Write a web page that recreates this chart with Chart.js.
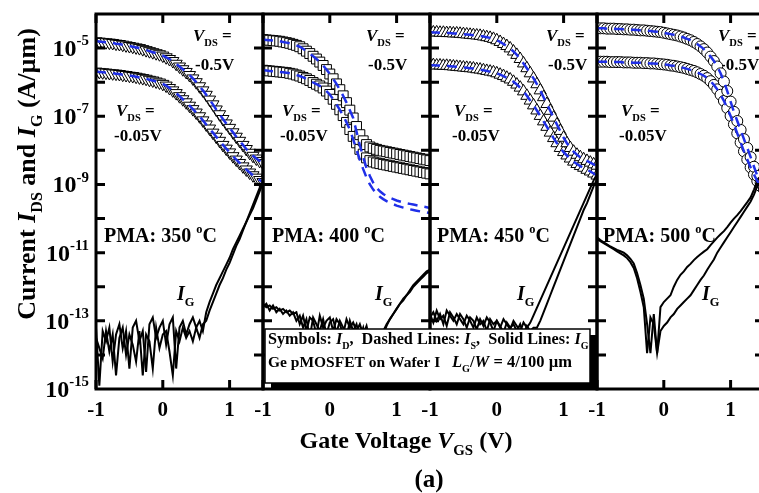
<!DOCTYPE html>
<html lang="en">
<head>
<meta charset="UTF-8">
<title>Ge pMOSFET transfer curves vs PMA temperature</title>
<script src="https://cdn.jsdelivr.net/npm/chart.js"></script>
<style>
  html, body { margin: 0; padding: 0; background: #fff; }
  #wrap { position: relative; width: 759px; height: 493px; overflow: hidden; background: #fff; }
  #wrap canvas { position: absolute; left: 0; top: 0; }
</style>
</head>
<body>
<div id="wrap">
  <canvas id="p350" width="780" height="493"></canvas>
  <canvas id="p400" width="780" height="493"></canvas>
  <canvas id="p450" width="780" height="493"></canvas>
  <canvas id="p500" width="780" height="493"></canvas>
</div>
<script>
// gate voltage sweep (V)
const vgs = [-1.00,-0.95,-0.90,-0.85,-0.80,-0.75,-0.70,-0.65,-0.60,-0.55,-0.50,-0.45,-0.40,-0.35,-0.30,-0.25,-0.20,-0.15,-0.10,-0.05,
  0.00,0.05,0.10,0.15,0.20,0.25,0.30,0.35,0.40,0.45,0.50,0.55,0.60,0.65,0.70,0.75,0.80,0.85,0.90,0.95,
  1.00,1.05,1.10,1.15,1.20,1.25,1.30,1.35,1.40,1.45,1.50];

// all currents below are log10(A/um)
// PMA 350 C
const id350Hi = [-4.80,-4.81,-4.82,-4.83,-4.84,-4.85,-4.87,-4.88,-4.90,-4.92,-4.94,-4.96,-4.98,-5.00,-5.03,-5.06,-5.09,-5.12,-5.15,-5.18,
  -5.22,-5.27,-5.32,-5.38,-5.46,-5.54,-5.62,-5.70,-5.79,-5.89,-6.00,-6.12,-6.24,-6.37,-6.51,-6.65,-6.80,-6.94,-7.08,-7.21,
  -7.34,-7.47,-7.60,-7.72,-7.84,-7.96,-8.07,-8.16,-8.24,-8.31,-8.37];
const id350Lo = [-5.69,-5.70,-5.71,-5.72,-5.73,-5.74,-5.75,-5.76,-5.78,-5.79,-5.81,-5.82,-5.84,-5.86,-5.88,-5.90,-5.93,-5.95,-5.98,-6.01,
  -6.05,-6.10,-6.17,-6.24,-6.32,-6.41,-6.50,-6.59,-6.69,-6.79,-6.89,-7.00,-7.12,-7.24,-7.36,-7.48,-7.60,-7.72,-7.84,-7.95,
  -8.06,-8.17,-8.27,-8.37,-8.47,-8.56,-8.65,-8.73,-8.80,-8.87,-8.93];
const ig350A = [-13.2,-14.9,-13.3,-13.6,-13.2,-14.2,-13.4,-13.1,-13.8,-13.3,-14.4,-13.2,-13.0,-13.6,-13.3,-14.5,-13.1,-12.9,-13.5,-13.2,
  -13.0,-13.7,-13.1,-12.9,-14.4,-13.2,-13.0,-13.4,-13.1,-12.9,-13.2,-13.0,-13.3,-12.75,-12.45,-12.2,-11.95,-11.75,-11.55,-11.35,
  -11.15,-10.9,-10.7,-10.5,-10.3,-10.1,-9.9,-9.7,-9.45,-9.2,-8.95];
const ig350B = [-13.5,-13.8,-14.1,-13.3,-13.9,-13.4,-14.6,-13.5,-13.2,-14.0,-13.4,-13.7,-14.2,-13.3,-14.6,-13.4,-13.6,-14.4,-13.2,-13.8,
  -13.4,-13.3,-13.9,-14.6,-13.3,-13.6,-13.2,-13.5,-13.3,-13.6,-13.2,-13.5,-13.1,-13.0,-12.7,-12.45,-12.2,-11.95,-11.75,-11.5,
  -11.3,-11.05,-10.8,-10.6,-10.35,-10.1,-9.85,-9.6,-9.35,-9.1,-8.85];

// PMA 400 C
const id400Hi = [-4.75,-4.76,-4.77,-4.78,-4.79,-4.80,-4.82,-4.84,-4.86,-4.89,-4.92,-4.96,-5.02,-5.09,-5.16,-5.24,-5.32,-5.41,-5.51,-5.63,
  -5.76,-5.90,-6.05,-6.22,-6.40,-6.60,-6.82,-7.05,-7.30,-7.54,-7.72,-7.83,-7.90,-7.94,-7.97,-8.00,-8.02,-8.04,-8.06,-8.08,
  -8.10,-8.12,-8.14,-8.16,-8.18,-8.20,-8.22,-8.24,-8.26,-8.28,-8.30];
const id400Lo = [-5.65,-5.66,-5.67,-5.68,-5.69,-5.70,-5.71,-5.72,-5.74,-5.76,-5.79,-5.82,-5.86,-5.90,-5.95,-6.01,-6.06,-6.11,-6.17,-6.26,
  -6.36,-6.50,-6.65,-6.81,-6.98,-7.18,-7.39,-7.59,-7.78,-7.97,-8.11,-8.22,-8.30,-8.34,-8.37,-8.39,-8.41,-8.43,-8.45,-8.47,
  -8.49,-8.51,-8.53,-8.55,-8.57,-8.59,-8.61,-8.63,-8.65,-8.67,-8.69];
const is400Hi = [-4.75,-4.76,-4.77,-4.78,-4.79,-4.80,-4.82,-4.84,-4.86,-4.89,-4.92,-4.96,-5.02,-5.09,-5.16,-5.24,-5.32,-5.41,-5.51,-5.63,
  -5.76,-5.90,-6.05,-6.22,-6.40,-6.60,-6.82,-7.05,-7.45,-7.85,-8.20,-8.52,-8.75,-8.95,-9.10,-9.20,-9.28,-9.34,-9.39,-9.43,
  -9.47,-9.50,-9.53,-9.55,-9.57,-9.59,-9.61,-9.63,-9.65,-9.67,-9.69];
const is400Lo = [-5.65,-5.66,-5.67,-5.68,-5.69,-5.70,-5.71,-5.72,-5.74,-5.76,-5.79,-5.82,-5.86,-5.90,-5.95,-6.01,-6.06,-6.11,-6.17,-6.26,
  -6.36,-6.50,-6.65,-6.81,-6.98,-7.18,-7.39,-7.68,-7.98,-8.28,-8.55,-8.80,-9.00,-9.15,-9.27,-9.36,-9.43,-9.49,-9.54,-9.58,
  -9.62,-9.65,-9.68,-9.71,-9.73,-9.75,-9.77,-9.79,-9.81,-9.82,-9.84];
const ig400A = [-12.5,-12.6,-12.55,-12.65,-12.6,-12.7,-12.65,-12.75,-12.7,-12.8,-12.75,-13.1,-12.85,-13.3,-12.9,-13.0,-13.4,-12.85,-13.2,-13.0,
  -12.9,-13.3,-12.95,-13.1,-13.4,-12.95,-13.2,-13.05,-13.3,-13.1,-13.4,-13.15,-13.6,-13.8,-13.9,-13.7,-13.4,-13.15,-12.95,-12.8,
  -12.65,-12.5,-12.35,-12.25,-12.1,-11.95,-11.85,-11.75,-11.65,-11.55,-11.5];
const ig400B = [-12.6,-12.5,-12.7,-12.55,-12.75,-12.65,-12.8,-12.7,-12.85,-12.75,-13.0,-12.85,-13.2,-12.95,-13.5,-12.9,-13.1,-13.3,-12.95,-13.4,
  -13.05,-12.95,-13.35,-13.0,-13.2,-13.5,-13.0,-13.3,-13.1,-13.5,-13.2,-13.7,-13.9,-14.0,-13.8,-13.55,-13.3,-13.1,-12.95,-12.8,
  -12.65,-12.5,-12.4,-12.25,-12.15,-12.0,-11.9,-11.8,-11.7,-11.6,-11.55];

// PMA 450 C
const id450Hi = [-4.53,-4.54,-4.54,-4.55,-4.55,-4.56,-4.56,-4.57,-4.57,-4.58,-4.59,-4.60,-4.61,-4.62,-4.63,-4.64,-4.66,-4.68,-4.70,-4.73,
  -4.77,-4.82,-4.88,-4.94,-5.01,-5.10,-5.20,-5.32,-5.45,-5.59,-5.74,-5.89,-6.06,-6.24,-6.44,-6.64,-6.84,-7.04,-7.24,-7.43,
  -7.63,-7.79,-7.93,-8.04,-8.13,-8.20,-8.26,-8.31,-8.36,-8.41,-8.45];
const id450Lo = [-5.50,-5.50,-5.51,-5.51,-5.52,-5.52,-5.53,-5.54,-5.55,-5.56,-5.57,-5.58,-5.59,-5.60,-5.62,-5.63,-5.65,-5.67,-5.69,-5.71,
  -5.74,-5.78,-5.82,-5.87,-5.92,-5.99,-6.07,-6.16,-6.27,-6.40,-6.54,-6.68,-6.83,-6.99,-7.15,-7.31,-7.48,-7.64,-7.79,-7.93,
  -8.05,-8.15,-8.24,-8.33,-8.40,-8.46,-8.51,-8.57,-8.62,-8.68,-8.74];
const ig450A = [-12.9,-12.75,-13.0,-12.8,-13.1,-12.7,-12.85,-13.0,-12.8,-12.95,-13.1,-12.85,-13.0,-13.2,-12.9,-13.1,-13.0,-13.3,-12.95,-13.1,
  -13.0,-13.2,-12.95,-13.1,-13.25,-13.0,-13.15,-13.3,-13.05,-13.2,-13.06,-12.84,-12.62,-12.4,-12.18,-11.96,-11.74,-11.52,-11.3,-11.08,
  -10.86,-10.64,-10.42,-10.2,-9.98,-9.76,-9.54,-9.32,-9.1,-8.88,-8.7];
const ig450B = [-12.8,-13.05,-12.7,-12.95,-12.85,-13.15,-12.75,-12.9,-13.1,-12.8,-12.95,-13.2,-12.9,-13.0,-13.25,-12.95,-13.15,-12.9,-13.05,-13.3,
  -13.0,-13.15,-13.35,-13.05,-13.2,-13.1,-13.3,-13.1,-13.4,-13.15,-13.3,-13.2,-13.2,-13.0,-12.75,-12.5,-12.25,-12.0,-11.75,-11.5,
  -11.25,-11.0,-10.75,-10.5,-10.25,-10.0,-9.75,-9.55,-9.3,-9.05,-8.85];

// PMA 500 C
const id500Hi = [-4.42,-4.42,-4.42,-4.43,-4.43,-4.43,-4.44,-4.44,-4.45,-4.45,-4.46,-4.46,-4.47,-4.48,-4.48,-4.49,-4.50,-4.51,-4.52,-4.53,
  -4.55,-4.57,-4.59,-4.61,-4.63,-4.66,-4.69,-4.73,-4.77,-4.82,-4.88,-4.95,-5.03,-5.13,-5.25,-5.38,-5.54,-5.74,-5.98,-6.26,
  -6.57,-6.87,-7.14,-7.40,-7.67,-7.93,-8.20,-8.48,-8.75,-8.95,-9.10];
const id500Lo = [-5.40,-5.40,-5.40,-5.40,-5.41,-5.41,-5.41,-5.41,-5.42,-5.42,-5.42,-5.43,-5.43,-5.43,-5.44,-5.44,-5.45,-5.45,-5.46,-5.47,
  -5.48,-5.49,-5.51,-5.52,-5.54,-5.56,-5.58,-5.61,-5.64,-5.67,-5.71,-5.76,-5.81,-5.88,-5.97,-6.08,-6.21,-6.37,-6.55,-6.76,
  -6.99,-7.24,-7.50,-7.77,-8.03,-8.27,-8.50,-8.71,-8.90,-9.05,-9.15];
const ig500A = [-10.55,-10.63,-10.7,-10.76,-10.82,-10.87,-10.92,-10.96,-11.0,-11.08,-11.18,-11.32,-11.6,-11.95,-12.35,-13.1,-13.95,-12.8,-13.95,-12.6,
  -12.45,-12.35,-12.25,-12.0,-11.8,-11.65,-11.55,-11.42,-11.33,-11.22,-11.13,-11.05,-10.97,-10.9,-10.78,-10.67,-10.56,-10.46,-10.37,-10.25,
  -10.12,-10.0,-9.9,-9.78,-9.65,-9.52,-9.38,-9.15,-8.9,-8.75,-8.65];
const ig500B = [-10.6,-10.66,-10.72,-10.78,-10.84,-10.9,-10.96,-11.02,-11.08,-11.16,-11.28,-11.45,-11.75,-12.15,-12.6,-13.95,-12.9,-13.1,-13.95,-13.3,
  -13.15,-13.05,-12.9,-12.8,-12.65,-12.55,-12.45,-12.35,-12.25,-12.1,-11.95,-11.8,-11.67,-11.5,-11.35,-11.2,-11.0,-10.85,-10.7,-10.55,
  -10.4,-10.25,-10.1,-9.95,-9.8,-9.65,-9.5,-9.3,-9.05,-8.85,-8.7];

// axis ticks
const xTicks = [-1, 0, 1];
const yDecades = [-14, -13, -12, -11, -10, -9, -8, -7, -6, -5];
const yLabelExps = [-5, -7, -9, -11, -13, -15];

const FONT = '"Liberation Serif", "Times New Roman", serif';
const BLUE = '#1f2fe8';

const panels = [
  { id: 'p350', temp: '350', left: 96,  hi: id350Hi, lo: id350Lo, sHi: id350Hi, sLo: id350Lo, gA: ig350A, gB: ig350B, style: 'triangle', rot: 180, r: 7,
    txt: { hiX: 97, loX: 20, pmaX: 8, igX: 81 } },
  { id: 'p400', temp: '400', left: 263, hi: id400Hi, lo: id400Lo, sHi: is400Hi, sLo: is400Lo, gA: ig400A, gB: ig400B, style: 'rect', rot: 0, r: 7,
    txt: { hiX: 103, loX: 19, pmaX: 9, igX: 112 } },
  { id: 'p450', temp: '450', left: 430, hi: id450Hi, lo: id450Lo, sHi: id450Hi, sLo: id450Lo, gA: ig450A, gB: ig450B, style: 'triangle', rot: 0, r: 7,
    txt: { hiX: 116, loX: 24, pmaX: 7, igX: 87 } },
  { id: 'p500', temp: '500', left: 597, hi: id500Hi, lo: id500Lo, sHi: id500Hi, sLo: id500Lo, gA: ig500A, gB: ig500B, style: 'circle', rot: 0, r: 5.5,
    txt: { hiX: 121, loX: 24, pmaX: 6, igX: 105 } }
];
const PANEL_W = 167, TOP = 14, BOTTOM = 389, CANVAS_W = 780, CANVAS_H = 493;

const toPts = arr => arr.map((L, i) => ({ x: vgs[i], y: Math.pow(10, L) }));

// draw text made of runs: [text, kind] kind = n | i | sub | sup
function rich(ctx, parts, x, y, size, align) {
  const runs = parts.map(([t, k]) => {
    const small = k === 'sub' || k === 'sup';
    const s = small ? size * 0.62 : size;
    const font = (k === 'i' ? 'italic ' : '') + 'bold ' + s + 'px ' + FONT;
    ctx.font = font;
    const dy = k === 'sub' ? size * 0.28 : k === 'sup' ? -size * 0.45 : 0;
    return { t, font, w: ctx.measureText(t).width, dy };
  });
  const total = runs.reduce((a, r) => a + r.w, 0);
  let cx = align === 'center' ? x - total / 2 : align === 'right' ? x - total : x;
  ctx.textAlign = 'left';
  ctx.textBaseline = 'alphabetic';
  runs.forEach(r => { ctx.font = r.font; ctx.fillText(r.t, cx, y + r.dy); cx += r.w; });
}

const figPlugin = {
  id: 'fig',
  beforeDatasetsDraw(chart, args, opts) {
    const p = panels[opts.panel];
    const ctx = chart.ctx, L = chart.chartArea.left;
    ctx.save();
    ctx.fillStyle = '#000';
    rich(ctx, [['V', 'i'], ['DS', 'sub'], [' =', 'n']], L + p.txt.hiX, 41, 17);
    rich(ctx, [['-0.5V', 'n']], L + p.txt.hiX + 2, 70, 17);
    rich(ctx, [['V', 'i'], ['DS', 'sub'], [' =', 'n']], L + p.txt.loX, 116, 17);
    rich(ctx, [['-0.05V', 'n']], L + p.txt.loX - 2, 141, 17);
    rich(ctx, [['PMA: ' + p.temp + ' ', 'n'], ['o', 'sup'], ['C', 'n']], L + p.txt.pmaX, 242, 20);
    rich(ctx, [['I', 'i'], ['G', 'sub']], L + p.txt.igX, 300, 20);
    ctx.restore();
  },
  afterDatasetsDraw(chart) {
    const ctx = chart.ctx, a = chart.chartArea;
    const xs = chart.scales.x, ys = chart.scales.y;
    ctx.save();
    ctx.strokeStyle = '#000';
    ctx.lineWidth = 3;
    ctx.beginPath();
    yDecades.forEach(e => {
      const y = ys.getPixelForValue(Math.pow(10, e));
      ctx.moveTo(a.left, y); ctx.lineTo(a.left + 9, y);
      ctx.moveTo(a.right, y); ctx.lineTo(a.right - 9, y);
    });
    xTicks.forEach(v => {
      const x = xs.getPixelForValue(v);
      ctx.moveTo(x, a.top); ctx.lineTo(x, a.top + 9);
      ctx.moveTo(x, a.bottom); ctx.lineTo(x, a.bottom - 9);
    });
    ctx.stroke();
    ctx.strokeRect(a.left, a.top, a.right - a.left, a.bottom - a.top);
    ctx.restore();
  },
  afterDraw(chart, args, opts) {
    const ctx = chart.ctx;
    const xs = chart.scales.x, ys = chart.scales.y;
    ctx.save();
    ctx.fillStyle = '#000';
    // x tick labels
    ctx.font = 'bold 21px ' + FONT;
    ctx.textAlign = 'center';
    ctx.textBaseline = 'middle';
    xTicks.forEach(v => ctx.fillText(String(v), xs.getPixelForValue(v), 411));

    if (opts.panel === 0) {
      yLabelExps.forEach(e => {
        const y = ys.getPixelForValue(Math.pow(10, e));
        rich(ctx, [['10', 'n'], [String(e), 'sup']], 89, y + 8, 24, 'right');
      });
      // axis titles
      rich(ctx, [['Gate Voltage ', 'n'], ['V', 'i'], ['GS', 'sub'], [' (V)', 'n']], 406, 448, 24, 'center');
      rich(ctx, [['(a)', 'n']], 429, 487, 25, 'center');
      ctx.save();
      ctx.translate(35, 174);
      ctx.rotate(-Math.PI / 2);
      rich(ctx, [['Current ', 'n'], ['I', 'i'], ['DS', 'sub'], [' and ', 'n'], ['I', 'i'], ['G', 'sub'], [' (A/\u00b5m)', 'n']], 0, 0, 26, 'center');
      ctx.restore();
    }
    if (opts.panel === 3) {
      // legend box with drop shadow
      ctx.fillStyle = '#000';
      ctx.fillRect(271, 335, 326, 54);
      ctx.fillStyle = '#fff';
      ctx.fillRect(265, 329, 325, 54);
      ctx.strokeStyle = '#000';
      ctx.lineWidth = 1.5;
      ctx.strokeRect(265, 329, 325, 54);
      ctx.fillStyle = '#000';
      rich(ctx, [['Symbols: ', 'n'], ['I', 'i'], ['D', 'sub'], [',  Dashed Lines: ', 'n'], ['I', 'i'], ['S', 'sub'],
                 [',  Solid Lines: ', 'n'], ['I', 'i'], ['G', 'sub']], 268, 344, 16.2);
      rich(ctx, [['Ge pMOSFET on Wafer I', 'n']], 268, 367, 15.5);
      rich(ctx, [['L', 'i'], ['G', 'sub'], ['/', 'n'], ['W', 'i'], [' = 4/100 \u00b5m', 'n']], 452, 367, 16.5);
    }
    ctx.restore();
  }
};

panels.forEach((p, k) => {
  const marker = {
    showLine: false, pointStyle: p.style, pointRotation: p.rot, pointRadius: p.r,
    pointBackgroundColor: '#fff', pointBorderColor: '#000', pointBorderWidth: 1, order: 2
  };
  const dashed = { borderColor: BLUE, borderWidth: 2.5, borderDash: [10, 7], pointRadius: 0, order: 0 };
  const solid = { borderColor: '#000', borderWidth: 2, pointRadius: 0, order: 1 };
  new Chart(document.getElementById(p.id), {
    type: 'line',
    data: {
      datasets: [
        Object.assign({ label: 'IS -0.5V', data: toPts(p.sHi) }, dashed),
        Object.assign({ label: 'IS -0.05V', data: toPts(p.sLo) }, dashed),
        Object.assign({ label: 'IG a', data: toPts(p.gA) }, solid),
        Object.assign({ label: 'IG b', data: toPts(p.gB) }, solid),
        Object.assign({ label: 'ID -0.5V', data: toPts(p.hi) }, marker),
        Object.assign({ label: 'ID -0.05V', data: toPts(p.lo) }, marker)
      ]
    },
    options: {
      responsive: false,
      animation: false,
      events: [],
      layout: {
        autoPadding: false,
        padding: { left: p.left, right: CANVAS_W - p.left - PANEL_W, top: TOP, bottom: CANVAS_H - BOTTOM }
      },
      scales: {
        x: { type: 'linear', min: -1, max: 1.5, display: false },
        y: { type: 'logarithmic', min: 1e-15, max: 1e-4, display: false }
      },
      elements: { line: { tension: 0 } },
      plugins: { legend: { display: false }, tooltip: { enabled: false }, fig: { panel: k } }
    },
    plugins: [figPlugin]
  });
});
</script>
</body>
</html>
